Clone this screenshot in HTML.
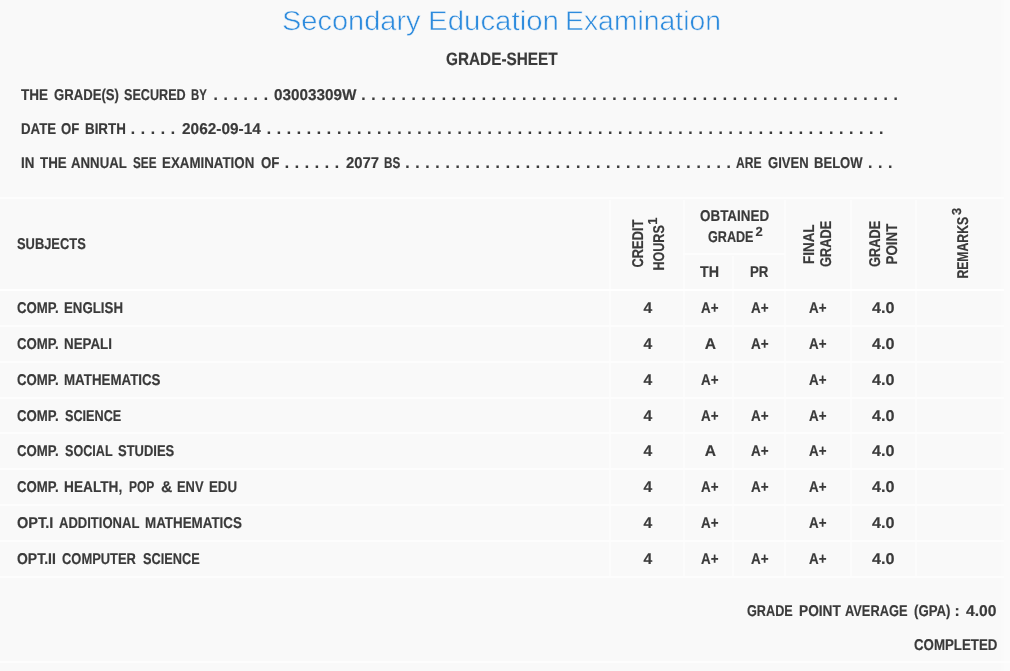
<!DOCTYPE html>
<html lang="en"><head><meta charset="utf-8"><title>Secondary Education Examination - Grade-Sheet</title>
<style>
html,body{margin:0;padding:0}
body{width:1010px;height:671px;overflow:hidden;background:#fbfbfb;font-family:"Liberation Sans", sans-serif;position:relative;text-rendering:geometricPrecision}
#sheet{position:absolute;left:0;top:0;width:1001px;height:671px;background:#f9f9f9;border-right:3px solid #fafafa}
h1,h2,p,.tr{margin:0;padding:0;font:inherit}
.t{position:absolute;white-space:pre;transform-origin:0 0;line-height:20px;font-size:15.6px;font-weight:bold;color:#3a3a3a;-webkit-text-stroke:0.18px #3a3a3a;vertical-align:baseline}
.b{font-weight:normal;color:#2d8bdd;-webkit-text-stroke:0.55px #f9f9f9}
.v{left:0;top:0}
.l{position:absolute;display:block}
</style></head><body>
<div id="sheet">
<div class="grid">
<i class="l" style="left:0px;top:197px;width:1004px;height:2px;background:#fdfdfd"></i>
<i class="l" style="left:609.2px;top:200px;width:2px;height:377px;background:#fcfcfc"></i>
<i class="l" style="left:682.8px;top:200px;width:2px;height:377px;background:#fcfcfc"></i>
<i class="l" style="left:784.2px;top:200px;width:2px;height:377px;background:#fcfcfc"></i>
<i class="l" style="left:849.9px;top:200px;width:2px;height:377px;background:#fcfcfc"></i>
<i class="l" style="left:915.2px;top:200px;width:2px;height:377px;background:#fcfcfc"></i>
<i class="l" style="left:731.8px;top:256px;width:2px;height:321px;background:#fcfcfc"></i>
<i class="l" style="left:683px;top:253px;width:102px;height:2px;background:#fdfdfd"></i>
<i class="l" style="left:0px;top:289.0px;width:1004px;height:2px;background:#fff"></i>
<i class="l" style="left:0px;top:324.9px;width:1004px;height:2px;background:#fdfdfd"></i>
<i class="l" style="left:0px;top:360.7px;width:1004px;height:2px;background:#fdfdfd"></i>
<i class="l" style="left:0px;top:396.6px;width:1004px;height:2px;background:#fdfdfd"></i>
<i class="l" style="left:0px;top:432.4px;width:1004px;height:2px;background:#fdfdfd"></i>
<i class="l" style="left:0px;top:468.3px;width:1004px;height:2px;background:#fdfdfd"></i>
<i class="l" style="left:0px;top:504.2px;width:1004px;height:2px;background:#fdfdfd"></i>
<i class="l" style="left:0px;top:540.0px;width:1004px;height:2px;background:#fdfdfd"></i>
<i class="l" style="left:0px;top:575.9px;width:1004px;height:2px;background:#fdfdfd"></i>
<i class="l" style="left:0px;top:661px;width:1010px;height:2px;background:#fdfdfd"></i>
</div>
<h1>
<span class="t b" style="left:282.04px;top:10.70px;font-size:27.3px;transform:scaleX(1.0620);">Secondary</span>
<span class="t b" style="left:427.84px;top:10.70px;font-size:27.3px;transform:scaleX(1.0784);">Education</span>
<span class="t b" style="left:565.42px;top:10.70px;font-size:27.3px;transform:scaleX(1.0392);">Examination</span>
</h1>
<h2>
<span class="t" style="left:446.30px;top:48.60px;font-size:17.9px;transform:scaleX(0.8573);">GRADE-SHEET</span>
</h2>
<p class="info">
<span class="t" style="left:20.80px;top:85.80px;transform:scaleX(0.8673);">THE</span>
<span class="t" style="left:53.80px;top:85.80px;transform:scaleX(0.8426);">GRADE(S)</span>
<span class="t" style="left:123.70px;top:85.80px;transform:scaleX(0.8094);">SECURED</span>
<span class="t" style="left:191.17px;top:85.80px;transform:scaleX(0.7290);">BY</span>
<span class="t d" style="left:213.43px;top:85.80px;letter-spacing:0.688px">. . . . . .</span>
<span class="t" style="left:273.50px;top:85.80px;transform:scaleX(0.9801);">03003309W</span>
<span class="t d" style="left:361.33px;top:85.80px;letter-spacing:0.688px">. . . . . . . . . . . . . . . . . . . . . . . . . . . . . . . . . . . . . . . . . . . . . . . . . . . . . .</span>
</p>
<p class="info">
<span class="t" style="left:20.95px;top:119.90px;transform:scaleX(0.8523);">DATE</span>
<span class="t" style="left:61.10px;top:119.90px;transform:scaleX(0.8424);">OF</span>
<span class="t" style="left:84.74px;top:119.90px;transform:scaleX(0.8560);">BIRTH</span>
<span class="t d" style="left:130.63px;top:119.90px;letter-spacing:0.688px">. . . . .</span>
<span class="t" style="left:181.50px;top:119.90px;transform:scaleX(0.9876);">2062-09-14</span>
<span class="t d" style="left:266.63px;top:119.90px;letter-spacing:0.688px">. . . . . . . . . . . . . . . . . . . . . . . . . . . . . . . . . . . . . . . . . . . . . . . . . . . . . . . . . . . . . .</span>
</p>
<p class="info">
<span class="t" style="left:20.94px;top:153.80px;transform:scaleX(0.8582);">IN</span>
<span class="t" style="left:39.50px;top:153.80px;transform:scaleX(0.8543);">THE</span>
<span class="t" style="left:71.10px;top:153.80px;transform:scaleX(0.8476);">ANNUAL</span>
<span class="t" style="left:132.80px;top:153.80px;transform:scaleX(0.7532);">SEE</span>
<span class="t" style="left:162.05px;top:153.80px;transform:scaleX(0.8544);">EXAMINATION</span>
<span class="t" style="left:260.60px;top:153.80px;transform:scaleX(0.8519);">OF</span>
<span class="t d" style="left:284.63px;top:153.80px;letter-spacing:0.688px">. . . . . .</span>
<span class="t" style="left:345.70px;top:153.80px;transform:scaleX(0.9525);">2077</span>
<span class="t" style="left:384.35px;top:153.80px;transform:scaleX(0.7502);">BS</span>
<span class="t d" style="left:405.23px;top:153.80px;letter-spacing:0.688px">. . . . . . . . . . . . . . . . . . . . . . . . . . . . . . . . .</span>
<span class="t" style="left:735.90px;top:153.80px;transform:scaleX(0.7748);">ARE</span>
<span class="t" style="left:767.90px;top:153.80px;transform:scaleX(0.8371);">GIVEN</span>
<span class="t" style="left:814.16px;top:153.80px;transform:scaleX(0.8375);">BELOW</span>
<span class="t d" style="left:868.03px;top:153.80px;letter-spacing:0.688px">. . .</span>
</p>
<div class="tr thead">
<span class="t" style="left:16.70px;top:234.80px;transform:scaleX(0.8263);">SUBJECTS</span>
<span class="t v" style="transform:translate(629.10px,267.40px) rotate(-90deg) scaleX(0.8220)">CREDIT</span>
<span class="t v" style="transform:translate(649.90px,270.61px) rotate(-90deg) scaleX(0.8067)">HOURS</span>
<sup class="t v" style="font-size:13px;transform:translate(643.10px,224.80px) rotate(-90deg)">1</sup>
<span class="t" style="left:700.10px;top:206.70px;transform:scaleX(0.8611);">OBTAINED</span>
<span class="t" style="left:708.40px;top:227.90px;transform:scaleX(0.8084);">GRADE</span>
<sup class="t" style="left:755.50px;top:221.70px;font-size:13px;">2</sup>
<span class="t" style="left:700.10px;top:263.20px;transform:scaleX(0.9159);">TH</span>
<span class="t" style="left:750.15px;top:263.20px;transform:scaleX(0.8529);">PR</span>
<span class="t v" style="transform:translate(800.10px,264.06px) rotate(-90deg) scaleX(0.8638)">FINAL</span>
<span class="t v" style="transform:translate(817.10px,267.00px) rotate(-90deg) scaleX(0.8209)">GRADE</span>
<span class="t v" style="transform:translate(865.80px,267.00px) rotate(-90deg) scaleX(0.8209)">GRADE</span>
<span class="t v" style="transform:translate(882.60px,264.56px) rotate(-90deg) scaleX(0.8594)">POINT</span>
<span class="t v" style="transform:translate(954.20px,278.58px) rotate(-90deg) scaleX(0.7826)">REMARKS</span>
<sup class="t v" style="font-size:13px;transform:translate(947.40px,215.00px) rotate(-90deg)">3</sup>
</div>
<div class="tr">
<span class="t" style="left:16.70px;top:299.00px;transform:scaleX(0.8468);">COMP.</span>
<span class="t" style="left:63.85px;top:299.00px;transform:scaleX(0.8508);">ENGLISH</span>
<span class="t" style="left:643.40px;top:299.00px;">4</span>
<span class="t" style="left:700.70px;top:299.00px;transform:scaleX(0.8588);">A+</span>
<span class="t" style="left:750.60px;top:299.00px;transform:scaleX(0.8637);">A+</span>
<span class="t" style="left:808.70px;top:299.00px;transform:scaleX(0.8588);">A+</span>
<span class="t" style="left:872.00px;top:299.00px;transform:scaleX(1.0361);">4.0</span>
</div>
<div class="tr">
<span class="t" style="left:16.70px;top:335.00px;transform:scaleX(0.8468);">COMP.</span>
<span class="t" style="left:63.84px;top:335.00px;transform:scaleX(0.8557);">NEPALI</span>
<span class="t" style="left:643.40px;top:335.00px;">4</span>
<span class="t" style="left:704.70px;top:335.00px;">A</span>
<span class="t" style="left:750.60px;top:335.00px;transform:scaleX(0.8637);">A+</span>
<span class="t" style="left:808.70px;top:335.00px;transform:scaleX(0.8588);">A+</span>
<span class="t" style="left:872.00px;top:335.00px;transform:scaleX(1.0361);">4.0</span>
</div>
<div class="tr">
<span class="t" style="left:16.70px;top:371.00px;transform:scaleX(0.8468);">COMP.</span>
<span class="t" style="left:63.85px;top:371.00px;transform:scaleX(0.8548);">MATHEMATICS</span>
<span class="t" style="left:643.40px;top:371.00px;">4</span>
<span class="t" style="left:700.70px;top:371.00px;transform:scaleX(0.8588);">A+</span>
<span class="t" style="left:808.70px;top:371.00px;transform:scaleX(0.8588);">A+</span>
<span class="t" style="left:872.00px;top:371.00px;transform:scaleX(1.0361);">4.0</span>
</div>
<div class="tr">
<span class="t" style="left:16.70px;top:407.00px;transform:scaleX(0.8468);">COMP.</span>
<span class="t" style="left:64.70px;top:407.00px;transform:scaleX(0.8111);">SCIENCE</span>
<span class="t" style="left:643.40px;top:407.00px;">4</span>
<span class="t" style="left:700.70px;top:407.00px;transform:scaleX(0.8588);">A+</span>
<span class="t" style="left:750.60px;top:407.00px;transform:scaleX(0.8637);">A+</span>
<span class="t" style="left:808.70px;top:407.00px;transform:scaleX(0.8588);">A+</span>
<span class="t" style="left:872.00px;top:407.00px;transform:scaleX(1.0361);">4.0</span>
</div>
<div class="tr">
<span class="t" style="left:16.70px;top:442.00px;transform:scaleX(0.8468);">COMP.</span>
<span class="t" style="left:64.70px;top:442.00px;transform:scaleX(0.8083);">SOCIAL</span>
<span class="t" style="left:118.10px;top:442.00px;transform:scaleX(0.8321);">STUDIES</span>
<span class="t" style="left:643.40px;top:442.00px;">4</span>
<span class="t" style="left:704.70px;top:442.00px;">A</span>
<span class="t" style="left:750.60px;top:442.00px;transform:scaleX(0.8637);">A+</span>
<span class="t" style="left:808.70px;top:442.00px;transform:scaleX(0.8588);">A+</span>
<span class="t" style="left:872.00px;top:442.00px;transform:scaleX(1.0361);">4.0</span>
</div>
<div class="tr">
<span class="t" style="left:16.70px;top:478.00px;transform:scaleX(0.8468);">COMP.</span>
<span class="t" style="left:64.22px;top:478.00px;transform:scaleX(0.8774);">HEALTH,</span>
<span class="t" style="left:128.73px;top:478.00px;transform:scaleX(0.7707);">POP</span>
<span class="t" style="left:160.90px;top:478.00px;">&amp;</span>
<span class="t" style="left:176.67px;top:478.00px;transform:scaleX(0.8275);">ENV</span>
<span class="t" style="left:208.75px;top:478.00px;transform:scaleX(0.8528);">EDU</span>
<span class="t" style="left:643.40px;top:478.00px;">4</span>
<span class="t" style="left:700.70px;top:478.00px;transform:scaleX(0.8588);">A+</span>
<span class="t" style="left:750.60px;top:478.00px;transform:scaleX(0.8637);">A+</span>
<span class="t" style="left:808.70px;top:478.00px;transform:scaleX(0.8588);">A+</span>
<span class="t" style="left:872.00px;top:478.00px;transform:scaleX(1.0361);">4.0</span>
</div>
<div class="tr">
<span class="t" style="left:16.70px;top:514.00px;transform:scaleX(0.9338);">OPT.I</span>
<span class="t" style="left:59.40px;top:514.00px;transform:scaleX(0.8362);">ADDITIONAL</span>
<span class="t" style="left:145.04px;top:514.00px;transform:scaleX(0.8584);">MATHEMATICS</span>
<span class="t" style="left:643.40px;top:514.00px;">4</span>
<span class="t" style="left:700.70px;top:514.00px;transform:scaleX(0.8588);">A+</span>
<span class="t" style="left:808.70px;top:514.00px;transform:scaleX(0.8588);">A+</span>
<span class="t" style="left:872.00px;top:514.00px;transform:scaleX(1.0361);">4.0</span>
</div>
<div class="tr">
<span class="t" style="left:16.70px;top:550.00px;transform:scaleX(0.8955);">OPT.II</span>
<span class="t" style="left:62.30px;top:550.00px;transform:scaleX(0.8284);">COMPUTER</span>
<span class="t" style="left:143.10px;top:550.00px;transform:scaleX(0.8169);">SCIENCE</span>
<span class="t" style="left:643.40px;top:550.00px;">4</span>
<span class="t" style="left:700.70px;top:550.00px;transform:scaleX(0.8588);">A+</span>
<span class="t" style="left:750.60px;top:550.00px;transform:scaleX(0.8637);">A+</span>
<span class="t" style="left:808.70px;top:550.00px;transform:scaleX(0.8588);">A+</span>
<span class="t" style="left:872.00px;top:550.00px;transform:scaleX(1.0361);">4.0</span>
</div>
<p class="gpa">
<span class="t" style="left:747.40px;top:602.30px;transform:scaleX(0.8120);">GRADE</span>
<span class="t" style="left:798.62px;top:602.30px;transform:scaleX(0.8785);">POINT</span>
<span class="t" style="left:844.70px;top:602.30px;transform:scaleX(0.8219);">AVERAGE</span>
<span class="t" style="left:913.90px;top:602.30px;transform:scaleX(0.8476);">(GPA)</span>
<span class="t" style="left:954.60px;top:602.30px;">:</span>
<span class="t" style="left:965.60px;top:602.30px;transform:scaleX(1.0040);">4.00</span>
</p>
<p class="status">
<span class="t" style="left:913.50px;top:635.90px;transform:scaleX(0.8522);">COMPLETED</span>
</p>
</div>
</body></html>
